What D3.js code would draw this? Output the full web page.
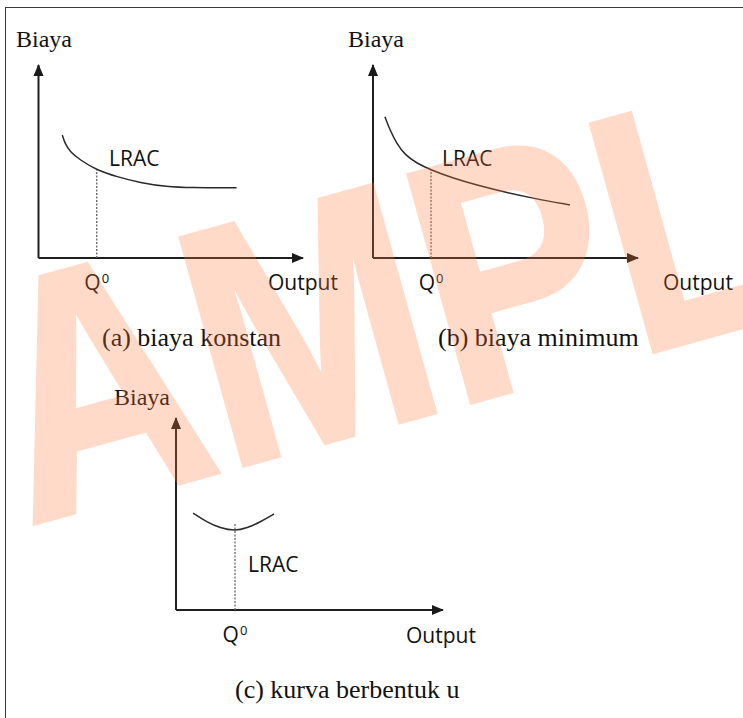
<!DOCTYPE html>
<html>
<head>
<meta charset="utf-8">
<script src="https://cdn.jsdelivr.net/npm/d3@7"></script>
<style>
  body { margin: 0; background: #fff; }
  svg { display: block; }
</style>
</head>
<body>
<div id="chart"></div>
<script>
'use strict';

// LRAC curves, in axis units (output 0-10, biaya 0-10)
var curveA = [[0.90, 6.37], [1.00, 5.94], [1.19, 5.51], [1.57, 5.08], [2.20, 4.56],
  [2.96, 4.21], [3.84, 3.90], [4.85, 3.69], [5.73, 3.64], [7.49, 3.64]];
var curveB = [[0.45, 7.32], [0.64, 6.63], [0.89, 5.94], [1.21, 5.34], [1.65, 4.91],
  [2.19, 4.56], [3.03, 4.13], [3.91, 3.78], [4.92, 3.43], [6.05, 3.09], [7.43, 2.75]];
var curveC = [[0.64, 5.05], [1.16, 4.58], [1.65, 4.27], [2.21, 4.11],
  [2.66, 4.27], [3.15, 4.58], [3.67, 5.00]];

var q0 = [2.20, 2.19, 2.21];        // output level Q0 per panel
var guideTop = [4.56, 4.56, 4.53];  // where the dotted line stops
var captions = ['(a) biaya konstan', '(b) biaya minimum', '(c) kurva berbentuk u'];
var yLabel = 'Biaya', xLabel = 'Output', curveLabel = 'LRAC', qLabel = 'Q', qSup = '0';

var width = 743, height = 718;

// pixel layout of each panel
var panels = [
  { curve: curveA, x0: 38.5, x1: 303, y0: 258, y1: 65,
    biaya: [16, 47], lrac: [109, 166], output: [268, 290], caption: [102, 346] },
  { curve: curveB, x0: 373, x1: 638, y0: 258, y1: 65,
    biaya: [348, 47], lrac: [442, 166], output: [663, 290], caption: [438, 346] },
  { curve: curveC, x0: 176, x1: 443, y0: 610, y1: 418,
    biaya: [114, 405], lrac: [248, 572], output: [406, 643], caption: [235, 698] }
];

var svg = d3.select('#chart').append('svg')
  .attr('width', width)
  .attr('height', height);

svg.append('defs').append('marker')
  .attr('id', 'arrow')
  .attr('markerUnits', 'userSpaceOnUse')
  .attr('viewBox', '0 -6 12 12')
  .attr('refX', 11)
  .attr('refY', 0)
  .attr('markerWidth', 12)
  .attr('markerHeight', 12)
  .attr('orient', 'auto')
  .append('path')
  .attr('d', 'M0,-5L12,0L0,5Z')
  .attr('fill', '#1a1a1a');

// frame
svg.append('rect')
  .attr('x', 5.5).attr('y', 7.5)
  .attr('width', 800).attr('height', 800)
  .attr('fill', 'none')
  .attr('stroke', '#3a3a3a')
  .attr('stroke-width', 1);

var serif = '"Liberation Serif", "Times New Roman", serif';
var sans = '"Open Sans", "Liberation Sans", sans-serif';

panels.forEach(function(p, i) {
  var x = d3.scaleLinear().domain([0, 10]).range([p.x0, p.x1]);
  var y = d3.scaleLinear().domain([0, 10]).range([p.y0, p.y1]);
  var line = d3.line()
    .x(function(d) { return x(d[0]); })
    .y(function(d) { return y(d[1]); });

  var g = svg.append('g');

  // axes
  [[[0, 0], [10, 0]], [[0, 0], [0, 10]]].forEach(function(ax) {
    g.append('path')
      .attr('d', line(ax))
      .attr('fill', 'none')
      .attr('stroke', '#1f1f1f')
      .attr('stroke-width', 2)
      .attr('marker-end', 'url(#arrow)');
  });

  // dotted guide at Q0
  g.append('path')
    .attr('d', line([[q0[i], 0], [q0[i], guideTop[i]]]))
    .attr('stroke', '#666')
    .attr('stroke-width', 1.3)
    .attr('stroke-dasharray', '2,1.5');

  // LRAC
  g.append('path')
    .attr('d', line.curve(d3.curveBasis)(p.curve))
    .attr('fill', 'none')
    .attr('stroke', '#2a2a2a')
    .attr('stroke-width', 1.5);

  g.append('text')
    .attr('x', p.biaya[0]).attr('y', p.biaya[1])
    .attr('font-family', serif).attr('font-size', 24)
    .attr('fill', '#111')
    .text(yLabel);

  g.append('text')
    .attr('x', p.lrac[0]).attr('y', p.lrac[1])
    .attr('font-family', sans).attr('font-size', 21)
    .attr('fill', '#111')
    .text(curveLabel);

  var q = g.append('text')
    .attr('x', x(q0[i])).attr('y', p.y0 + 32)
    .attr('text-anchor', 'middle')
    .attr('font-family', sans).attr('font-size', 21)
    .attr('fill', '#111');
  q.append('tspan').text(qLabel);
  q.append('tspan').attr('font-size', 13).attr('dy', -7).attr('dx', 1).text(qSup);

  g.append('text')
    .attr('x', p.output[0]).attr('y', p.output[1])
    .attr('font-family', sans).attr('font-size', 21)
    .attr('fill', '#111')
    .text(xLabel);

  g.append('text')
    .attr('x', p.caption[0]).attr('y', p.caption[1])
    .attr('font-family', serif).attr('font-size', 26)
    .attr('fill', '#111')
    .text(captions[i]);
});

// watermark, stroked a little to match the heavier original lettering
svg.append('text')
  .attr('transform', 'translate(28,525) rotate(-15.5)')
  .attr('font-family', '"Liberation Sans", Arial, sans-serif')
  .attr('font-weight', 'bold')
  .attr('font-size', 342)
  .attr('textLength', 804)
  .attr('lengthAdjust', 'spacingAndGlyphs')
  .attr('fill', '#ff7a3d')
  .attr('stroke', '#ff7a3d')
  .attr('stroke-width', 5)
  .attr('stroke-linejoin', 'miter')
  .attr('opacity', 0.27)
  .text('AMPL');
</script>
</body>
</html>
